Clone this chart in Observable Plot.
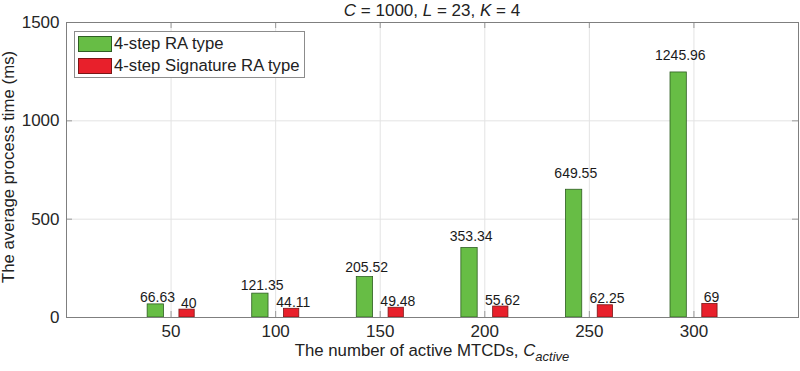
<!DOCTYPE html>
<html>
<head>
<meta charset="utf-8">
<script src="https://cdn.jsdelivr.net/npm/d3@7"></script>
<script src="https://cdn.jsdelivr.net/npm/@observablehq/plot@0.6"></script>
<style>
  html, body { margin: 0; padding: 0; background: #fff; }
  #wrap { position: relative; width: 800px; height: 371px; font-family: "Liberation Sans", Arial, Helvetica, sans-serif; color: #222; }
  #wrap svg { position: absolute; left: 0; top: 0; }
  .title { position: absolute; left: 232px; width: 400px; top: 1px; text-align: center; font-size: 17px; line-height: 20px; white-space: nowrap; }
  .xlabel { position: absolute; left: 232px; width: 400px; top: 343px; text-align: center; font-size: 16.8px; line-height: 15px; white-space: nowrap; }
  .xlabel sub { font-size: 13px; vertical-align: -5px; line-height: 0; }
  .ylabel { position: absolute; left: 9px; top: 167px; transform: translate(-50%, -50%) rotate(-90deg); font-size: 16.8px; line-height: 18px; white-space: nowrap; }
  .legend { position: absolute; left: 74px; top: 31px; width: 231px; height: 47px; border: 1px solid #8c8c8c; background: #fff; box-sizing: border-box; }
  .legend .row { position: absolute; left: 3px; height: 17px; display: flex; align-items: center; font-size: 16.7px; white-space: nowrap; }
  .legend .sw { width: 34px; height: 16px; box-sizing: border-box; margin-right: 2px; }
</style>
</head>
<body>
<div id="wrap"></div>
<script>
const mtcds = [50, 100, 150, 200, 250, 300];
const raTime = [66.63, 121.35, 205.52, 353.34, 649.55, 1245.96];
const sigTime = [40, 44.11, 49.48, 55.62, 62.25, 69];
const seriesNames = ["4-step RA type", "4-step Signature RA type"];
const xTicks = [50, 100, 150, 200, 250, 300];
const yTicks = [0, 500, 1000, 1500];

const fills = ["#67bd45", "#e8202b"];
const strokes = ["#2e5e22", "#7a1616"];
const offsets = [[-11.2, -3.4], [4, 11.3]];

const rows = [];
mtcds.forEach((n, i) => {
  rows.push({n, v: raTime[i], s: 0});
  rows.push({n, v: sigTime[i], s: 1});
});

const W = 800, H = 371, mT = 22, mR = 2, mB = 54, mL = 66;
const pw = W - mL - mR, ph = H - mT - mB;
const gapFor = v => 1 + 11 * Math.min(1, v / 600);

const chart = Plot.plot({
  width: W, height: H,
  marginTop: mT, marginRight: mR, marginBottom: mB, marginLeft: mL,
  style: {fontFamily: '"Liberation Sans", Arial, Helvetica, sans-serif', fontSize: "17px", color: "#262626", background: "#fff"},
  x: {domain: [0, 350], label: null},
  y: {domain: [0, 1500], label: null},
  marks: [
    Plot.gridX(xTicks, {stroke: "#e3e3e3", strokeOpacity: 1}),
    Plot.gridY(yTicks.filter(d => d > 0 && d < 1500), {stroke: "#e3e3e3", strokeOpacity: 1}),
    Plot.tickX(xTicks, {x: d => d, stroke: "#9a9a9a", insetTop: ph - 6}),
    Plot.tickX(xTicks, {x: d => d, stroke: "#9a9a9a", insetBottom: ph - 6}),
    Plot.tickY(yTicks, {y: d => d, stroke: "#9a9a9a", insetRight: pw - 6}),
    Plot.tickY(yTicks, {y: d => d, stroke: "#9a9a9a", insetLeft: pw - 6}),
    Plot.rectY(rows, {
      x1: d => d.n + offsets[d.s][0],
      x2: d => d.n + offsets[d.s][1],
      y1: 0, y2: "v",
      fill: d => fills[d.s],
      stroke: d => strokes[d.s],
      strokeWidth: 0.8
    }),
    Plot.text(rows, {
      x: d => d.n + (offsets[d.s][0] + offsets[d.s][1]) / 2 + 0.8,
      y: "v",
      text: d => String(d.v),
      lineAnchor: "bottom",
      fontSize: 14,
      fill: "#1a1a1a"
    }),
    Plot.frame({stroke: "#7f7f7f"}),
    Plot.axisX(xTicks, {tickSize: 0, tickPadding: 7, fontSize: 17, fill: "#262626", tickFormat: d => String(d)}),
    Plot.axisY(yTicks, {tickSize: 0, tickPadding: 7, fontSize: 17, fill: "#262626", tickFormat: d => String(d)})
  ]
});

const wrap = document.getElementById("wrap");
wrap.appendChild(chart);

// value-dependent vertical gap for bar labels (pixel styling)
chart.querySelectorAll("g[aria-label='text'] text").forEach((t, i) => {
  const r = rows[i];
  if (r) t.setAttribute("dy", String(-gapFor(r.v)));
});

const title = document.createElement("div");
title.className = "title";
title.innerHTML = "<i>C</i> = 1000, <i>L</i> = 23, <i>K</i> = 4";
wrap.appendChild(title);

const xl = document.createElement("div");
xl.className = "xlabel";
xl.innerHTML = "The number of active MTCDs, <i>C</i><sub><i>active</i></sub>";
wrap.appendChild(xl);

const yl = document.createElement("div");
yl.className = "ylabel";
yl.textContent = "The average process time (ms)";
wrap.appendChild(yl);

const lg = document.createElement("div");
lg.className = "legend";
seriesNames.forEach((name, i) => {
  const row = document.createElement("div");
  row.className = "row";
  row.style.top = (i === 0 ? 3 : 25) + "px";
  const sw = document.createElement("div");
  sw.className = "sw";
  sw.style.background = fills[i];
  sw.style.border = "1px solid " + strokes[i];
  row.appendChild(sw);
  const lab = document.createElement("span");
  lab.textContent = name;
  row.appendChild(lab);
  lg.appendChild(row);
});
wrap.appendChild(lg);
</script>
</body>
</html>
